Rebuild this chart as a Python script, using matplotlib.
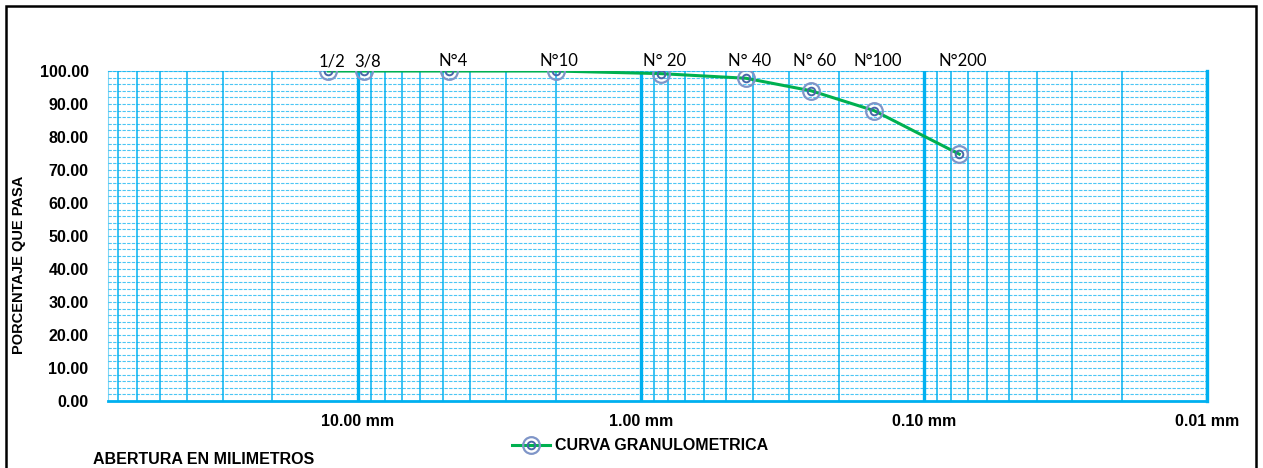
import numpy as np
import matplotlib
matplotlib.use("Agg")
from matplotlib import pyplot as plt
from matplotlib.patches import Rectangle
from matplotlib.legend_handler import HandlerTuple

# tamiz / abertura (mm) / % que pasa
tamiz = ["1/2", "3/8", "N°4", "N°10", "N° 20", "N° 40", "N° 60", "N°100", "N°200"]
abertura = [12.70, 9.525, 4.75, 2.00, 0.85, 0.425, 0.25, 0.15, 0.075]
pasa = [100.0, 100.0, 100.0, 100.0, 99.2, 97.8, 94.0, 88.0, 74.8]

x_ticks = [10, 1, 0.1, 0.01]
x_ticklabels = ["10.00 mm", "1.00 mm", "0.10 mm", "0.01 mm"]
y_ticks = np.arange(0, 101, 10)

blue = "#00B0F0"
green = "#00B050"
mk = "#4A66A8"
mk2 = "#7F95C8"

fig = plt.figure(figsize=(12.63, 4.68), dpi=100)
ax = fig.add_axes([108 / 1263, 67 / 468, 1099 / 1263, 330 / 468])

ax.set_xscale("log")
ax.set_xlim(76.2, 0.01)
ax.set_ylim(0, 100)

# horizontal dashed grid every 2 %
for yv in np.arange(2, 101, 2):
    ax.axhline(yv, color="#4CC6F4", lw=0.8, ls=(0, (3, 1.2)), zorder=1)

# vertical log grid
for dec in [10, 1, 0.1, 0.01]:
    for k in range(2, 10):
        xv = dec * k
        if 0.01 < xv < 76.2:
            ax.axvline(xv, color=blue, lw=1.2, alpha=0.9, zorder=1)
for xv in x_ticks:
    ax.axvline(xv, color=blue, lw=2.4, zorder=2)

ax.plot(abertura, pasa, color=green, lw=2.2, zorder=3)
ax.plot(abertura, pasa, ls="none", marker="o", ms=12, mfc="none", mec=mk2, mew=1.6, zorder=4)
ax.plot(abertura, pasa, ls="none", marker="o", ms=5.5, mfc="none", mec=mk, mew=1.4, zorder=4)

for t, xv in zip(tamiz, abertura):
    ax.text(xv * 0.97, 100.5, t, ha="center", va="bottom", fontsize=12,
            family="Lato", clip_on=False, zorder=5)

ax.set_xticks(x_ticks)
ax.set_xticklabels(x_ticklabels, fontsize=11.5, fontweight="bold", family="Liberation Sans")
ax.minorticks_off()
ax.set_yticks(y_ticks)
ax.set_yticklabels(["%.2f" % v for v in y_ticks], fontsize=11.5, fontweight="bold",
                   family="Liberation Sans")
ax.tick_params(length=0, pad=14)
ax.tick_params(axis="x", pad=9)

for s in ["top", "left"]:
    ax.spines[s].set_color(blue)
    ax.spines[s].set_linewidth(0.8)
    ax.spines[s].set_alpha(0.5)
ax.spines["bottom"].set_color(blue)
ax.spines["bottom"].set_linewidth(2)
ax.spines["right"].set_color(blue)
ax.spines["right"].set_linewidth(2.4)

fig.text(19 / 1263, 1 - 265 / 468, "PORCENTAJE QUE PASA", rotation=90, ha="center",
         va="center", fontsize=10.5, fontweight="bold", family="Liberation Sans")
fig.text(93 / 1263, 1 - 459 / 468, "ABERTURA EN MILIMETROS", ha="left", va="center",
         fontsize=11.5, fontweight="bold", family="Liberation Sans")

h1, = ax.plot([], [], color=green, lw=2.2, marker="o", ms=12, mfc="none", mec=mk2, mew=1.6)
h2, = ax.plot([], [], ls="none", marker="o", ms=5.5, mfc="none", mec=mk, mew=1.4)
leg = fig.legend([(h1, h2)], ["CURVA GRANULOMETRICA"], loc="center",
                 bbox_to_anchor=(640 / 1263, 1 - 446 / 468),
                 handler_map={tuple: HandlerTuple(ndivide=1, pad=0)},
                 frameon=False, prop={"family": "Liberation Sans", "weight": "bold", "size": 11.5},
                 handlelength=2.4, handletextpad=0.3)

fig.patches.append(Rectangle((6 / 1263, -0.01), 1250 / 1263, 1 - 6 / 468 + 0.01,
                             transform=fig.transFigure, fill=False, ec="black", lw=1.8))

fig.savefig("out.png", dpi=100)
